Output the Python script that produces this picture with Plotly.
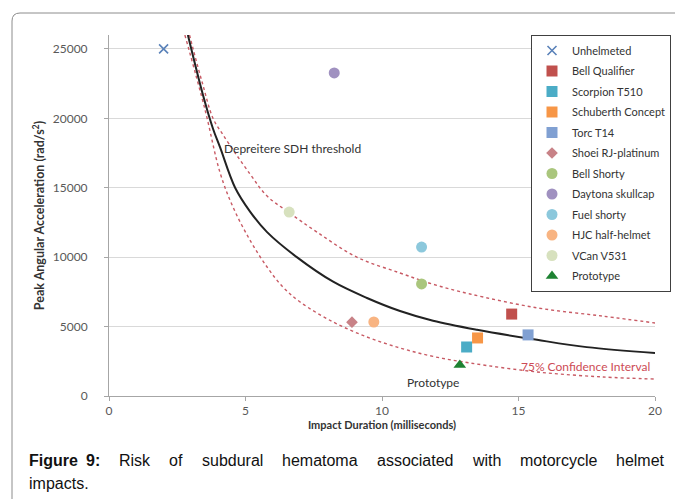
import plotly.graph_objects as go

# ---- data ----
helmet_names = ["Unhelmeted", "Bell Qualifier", "Scorpion T510", "Schuberth Concept",
                "Torc T14", "Shoei RJ-platinum", "Bell Shorty", "Daytona skullcap",
                "Fuel shorty", "HJC half-helmet", "VCan V531", "Prototype"]
impact_duration_ms = [2.0, 14.75, 13.1, 13.5, 15.35, 8.9, 11.45, 8.25, 11.45, 9.7, 6.6, 12.85]
peak_angular_acc = [25000, 5900, 3530, 4180, 4400, 5320, 8070, 23270, 10730, 5330, 13250, 2230]

threshold_x = [2.89, 3.44, 3.81, 4.07, 4.62, 5.16, 5.79, 6.88, 8.21, 9.45, 10.66, 11.87,
               13.48, 15.68, 17.5, 20.0]
threshold_y = [26000, 21700, 19250, 17900, 15000, 13300, 11800, 10000, 8230, 7060, 6120, 5420,
               4770, 4045, 3520, 3100]

upper_ci_x = [2.95, 3.08, 3.44, 3.81, 4.18, 5.16, 5.79, 6.56, 7.62, 9.08, 10.66, 11.87,
              13.22, 15.68, 18.10, 20.0]
upper_ci_y = [26000, 25000, 22400, 20000, 18800, 16000, 14400, 13260, 11800, 10000, 8860, 8050,
              7350, 6350, 5750, 5260]

lower_ci_x = [2.78, 3.52, 4.07, 4.54, 5.16, 5.79, 6.37, 7.0, 8.21, 9.45, 10.66, 11.87,
              13.22, 15.68, 18.10, 20.0]
lower_ci_y = [26000, 20600, 16070, 13620, 11240, 9290, 7850, 6770, 5330, 4250, 3460, 2850,
              2380, 1730, 1370, 1220]

x_ticks = [0, 5, 10, 15, 20]
y_ticks = [0, 5000, 10000, 15000, 20000, 25000]
y_tick_labels = ["0", "5000", "10000", "15000", "20000", "25000"]

caption_words = ["<b>Figure</b>", "<b>9:</b>", "Risk", "of", "subdural", "hematoma",
                 "associated", "with", "motorcycle", "helmet"]
caption_line2 = "impacts."

# ---- styles ----
marker_symbols = ["x-thin", "square", "square", "square", "square", "diamond",
                  "circle", "circle", "circle", "circle", "circle", "triangle-up"]
marker_colors = ["rgb(90,130,185)", "rgb(192,80,77)", "rgb(75,172,198)", "rgb(247,150,70)",
                 "rgb(128,160,210)", "rgb(200,130,135)", "rgb(170,198,125)", "rgb(160,145,192)",
                 "rgb(140,200,220)", "rgb(248,180,130)", "rgb(215,225,190)", "rgb(30,130,50)"]
marker_sizes = [9, 11, 11, 11, 11, 9, 11, 11, 11, 11, 11, 11]
caption_word_px = [27, 84, 117.2, 167.3, 199.6, 280.0, 374.6, 470.1, 517.5, 613.8]

FONT = "Lato"
ci_color = "rgb(200,90,100)"

fig = go.Figure()

fig.add_trace(go.Scatter(x=upper_ci_x, y=upper_ci_y, mode="lines", line_shape="spline",
                         line=dict(color=ci_color, width=1.4, dash="dot"), showlegend=False,
                         hoverinfo="skip"))
fig.add_trace(go.Scatter(x=lower_ci_x, y=lower_ci_y, mode="lines", line_shape="spline",
                         line=dict(color=ci_color, width=1.4, dash="dot"), showlegend=False,
                         hoverinfo="skip"))
fig.add_trace(go.Scatter(x=threshold_x, y=threshold_y, mode="lines", line_shape="spline",
                         line=dict(color="#222222", width=2), showlegend=False,
                         hoverinfo="skip"))

for i, name in enumerate(helmet_names):
    mk = dict(symbol=marker_symbols[i], color=marker_colors[i], size=marker_sizes[i])
    if marker_symbols[i] == "x-thin":
        mk["line"] = dict(color=marker_colors[i], width=1.6)
    fig.add_trace(go.Scatter(x=[impact_duration_ms[i]], y=[peak_angular_acc[i]], mode="markers",
                             name=name, legendgroup=f"g{i}", marker=mk, cliponaxis=False))

# text annotations in chart
fig.add_annotation(x=4.14, y=17850, xref="x", yref="y", text="Depreitere SDH threshold",
                   showarrow=False, xanchor="left", yanchor="middle",
                   font=dict(family=FONT, size=12, color="#333333"))
fig.add_annotation(x=11.87, y=950, xref="x", yref="y", text="Prototype",
                   showarrow=False, xanchor="center", yanchor="middle",
                   font=dict(family=FONT, size=12, color="#333333"))
fig.add_annotation(x=15.0, y=2160, xref="x", yref="y", text="75% Confidence Interval",
                   showarrow=False, xanchor="left", yanchor="middle",
                   font=dict(family=FONT, size=12, color="rgb(205,75,85)"))

# pixel -> paper helpers (plot area: x 109..655, y 35..396)
PX0, PW, PY0, PH = 109, 546, 396, 361
def px(x):
    return (x - PX0) / PW
def py(y):
    return (PY0 - y) / PH

# chart-box border (top and left edges with a rounded corner)
path = (f"M {px(12)},{py(499)} L {px(12)},{py(21)} "
        f"Q {px(12)},{py(13)} {px(20)},{py(13)} L {px(676)},{py(13)}")
fig.add_shape(type="path", path=path, xref="paper", yref="paper",
              line=dict(color="#8c8c8c", width=1))

# caption (justified first line, word by word)
for word, xpos in zip(caption_words, caption_word_px):
    fig.add_annotation(x=px(xpos), y=py(460), xref="paper", yref="paper", text=word,
                       showarrow=False, xanchor="left", yanchor="middle",
                       font=dict(family="Liberation Sans", size=16, color="#111111"))
fig.add_annotation(x=px(27), y=py(484), xref="paper", yref="paper", text=caption_line2,
                   showarrow=False, xanchor="left", yanchor="middle",
                   font=dict(family="Liberation Sans", size=16, color="#111111"))

fig.update_layout(
    width=675, height=499,
    margin=dict(l=109, r=20, t=35, b=103, autoexpand=False),
    paper_bgcolor="white", plot_bgcolor="white",
    font=dict(family=FONT, size=12, color="#595959"),
    legend=dict(x=px(531), y=1.0, xanchor="left", yanchor="top",
                bordercolor="#404040", borderwidth=1, bgcolor="white",
                font=dict(family=FONT, size=11, color="#333333"),
                itemwidth=30, tracegroupgap=1.5),
    xaxis=dict(range=[0, 20], tickvals=x_ticks, ticks="outside", ticklen=4,
               tickcolor="#a6a6a6", showgrid=False, zeroline=False, automargin=False,
               showline=True, linecolor="#a6a6a6", linewidth=1,
               tickfont=dict(family=FONT, size=12, color="#595959"),
               title=dict(text="<b>Impact Duration (milliseconds)</b>", standoff=1,
                          font=dict(family=FONT, size=11, color="#333333"))),
    yaxis=dict(range=[0, 26000], tickvals=y_ticks, ticktext=y_tick_labels,
               ticks="outside", ticklen=4, automargin=False,
               tickcolor="#a6a6a6", showgrid=True, gridcolor="#d9d9d9", gridwidth=1,
               zeroline=False, showline=True, linecolor="#a6a6a6", linewidth=1,
               ticklabelstandoff=14,
               tickfont=dict(family=FONT, size=12, color="#595959"),
               title=dict(text="<b>Peak Angular Acceleration (rad/s<sup>2</sup>)</b>", standoff=5,
                          font=dict(family=FONT, size=12.5, color="#333333"))),
)

fig.write_html("out.html", config={"displayModeBar": False},
               post_script="document.body.style.margin='0px';document.body.style.overflow='hidden';")
